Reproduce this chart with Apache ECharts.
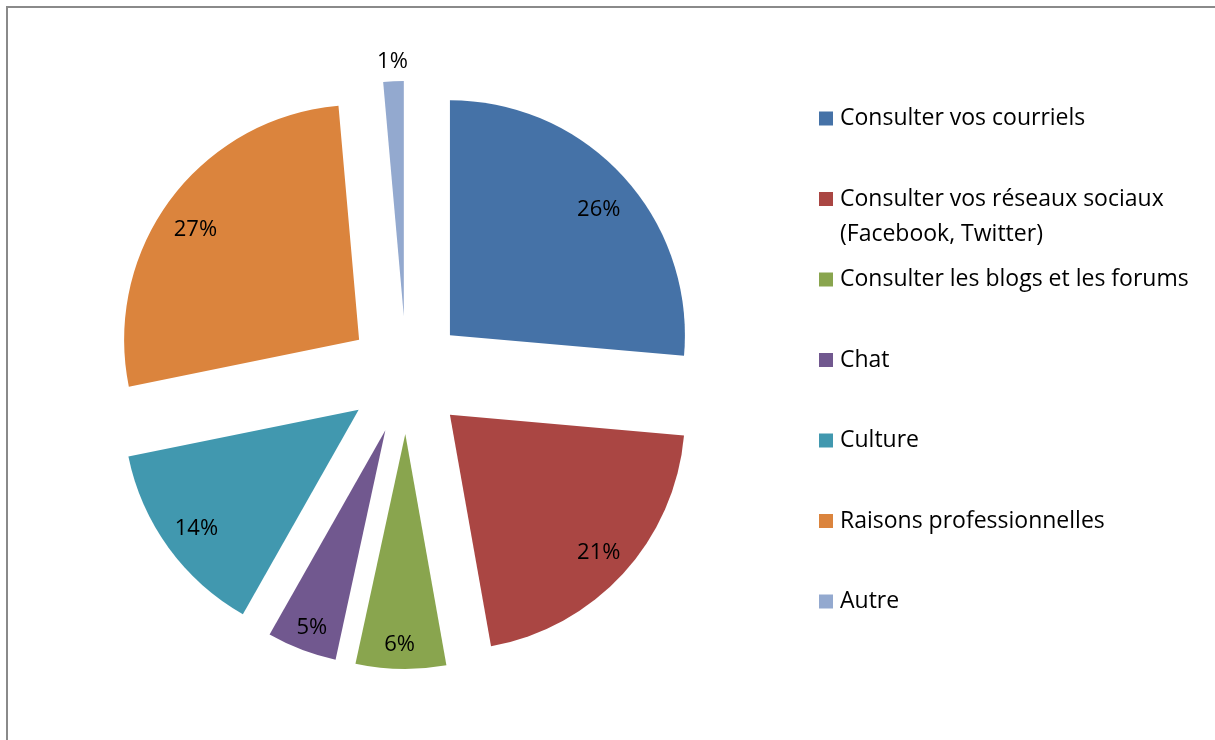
<!DOCTYPE html>
<html>
<head>
<meta charset="utf-8">
<script src="https://cdn.jsdelivr.net/npm/echarts@6/dist/echarts.min.js"></script>
<style>
  html, body { margin: 0; padding: 0; background: #fff; }
  #chart { width: 1215px; height: 740px; }
</style>
</head>
<body>
<div id="chart"></div>
<script>
// Usage categories and their shares (percent); labels show the rounded share
const categories = [
  'Consulter vos courriels',
  'Consulter vos réseaux sociaux (Facebook, Twitter)',
  'Consulter les blogs et les forums',
  'Chat',
  'Culture',
  'Raisons professionnelles',
  'Autre'
];
const shares = [26.4, 20.8, 6.2, 4.8, 13.6, 26.8, 1.4];
const colors = ['#4572A7', '#AA4643', '#89A54E', '#71588F', '#4198AF', '#DB843D', '#93A9CF'];
// Legend text; the long entry wraps onto a second line
const legendFirstLines = {
  'Consulter vos réseaux sociaux (Facebook, Twitter)': 'Consulter vos réseaux sociaux'
};
const legendSecondLine = '(Facebook, Twitter)';

const FONT = '"Open Sans", Lato, sans-serif';
const LABEL_SIZE = 22;
const LEGEND_SIZE = 23;
const center = [406.4, 375];
const radius = 235;
const explode = 59;

// Small per-slice label nudges (dx, dy) so the labels sit where they read best
const labelNudge = [[1, 10], [1, 2], [-2, 10], [-2, 10], [0, 1], [-3, 10], [0, 2]];

const sliceData = categories.map((name, i) => ({
  name: name,
  value: shares[i],
  selected: true,
  itemStyle: { color: colors[i] }
}));

// Transparent ring used only to place the percent labels nearer the rim
function labelRing(radii, showIndex) {
  return {
    type: 'pie',
    silent: true,
    center: center,
    radius: radii,
    selectedMode: 'multiple',
    selectedOffset: explode,
    avoidLabelOverlap: false,
    legendHoverLink: false,
    percentPrecision: 0,
    itemStyle: { color: 'rgba(0,0,0,0)' },
    emphasis: { disabled: true },
    label: {
      show: true,
      position: 'inside',
      formatter: p => Math.round(p.percent) + '%',
      color: '#000',
      fontFamily: FONT,
      fontSize: LABEL_SIZE
    },
    labelLayout: p => ({ dx: labelNudge[p.dataIndex][0], dy: labelNudge[p.dataIndex][1] }),
    labelLine: { show: false },
    data: categories.map((name, i) => ({
      name: name,
      value: shares[i],
      selected: true,
      label: { show: showIndex(i) }
    }))
  };
}

const chart = echarts.init(document.getElementById('chart'), null, { renderer: 'canvas' });
chart.setOption({
  animation: false,
  backgroundColor: '#fff',
  color: colors,
  graphic: [
    {
      type: 'rect',
      shape: { x: 7, y: 7, width: 1400, height: 900 },
      style: { fill: 'none', stroke: '#8a8a8a', lineWidth: 2 },
      silent: true,
      z: 0
    },
    {
      type: 'text',
      x: 840,
      y: 234,
      style: {
        text: legendSecondLine,
        fill: '#000',
        fontFamily: FONT,
        fontSize: LEGEND_SIZE,
        verticalAlign: 'middle'
      },
      silent: true
    }
  ],
  legend: {
    orient: 'vertical',
    left: 819,
    top: 105.5,
    padding: 0,
    icon: 'rect',
    itemWidth: 14,
    itemHeight: 14,
    itemGap: 54.5,
    selectedMode: false,
    data: categories,
    formatter: name => legendFirstLines[name] || name,
    textStyle: {
      color: '#000',
      fontFamily: FONT,
      fontSize: LEGEND_SIZE,
      lineHeight: 26,
      padding: [0, 0, 0, 2]
    }
  },
  series: [
    {
      type: 'pie',
      silent: true,
      center: center,
      radius: radius,
      startAngle: 90,
      clockwise: true,
      selectedMode: 'multiple',
      selectedOffset: explode,
      avoidLabelOverlap: false,
      emphasis: { disabled: true },
      label: { show: false },
      labelLine: { show: false },
      data: sliceData
    },
    labelRing([160, 235], i => shares[i] >= 2),
    labelRing([240, 268], i => shares[i] < 2)
  ]
});
</script>
</body>
</html>
